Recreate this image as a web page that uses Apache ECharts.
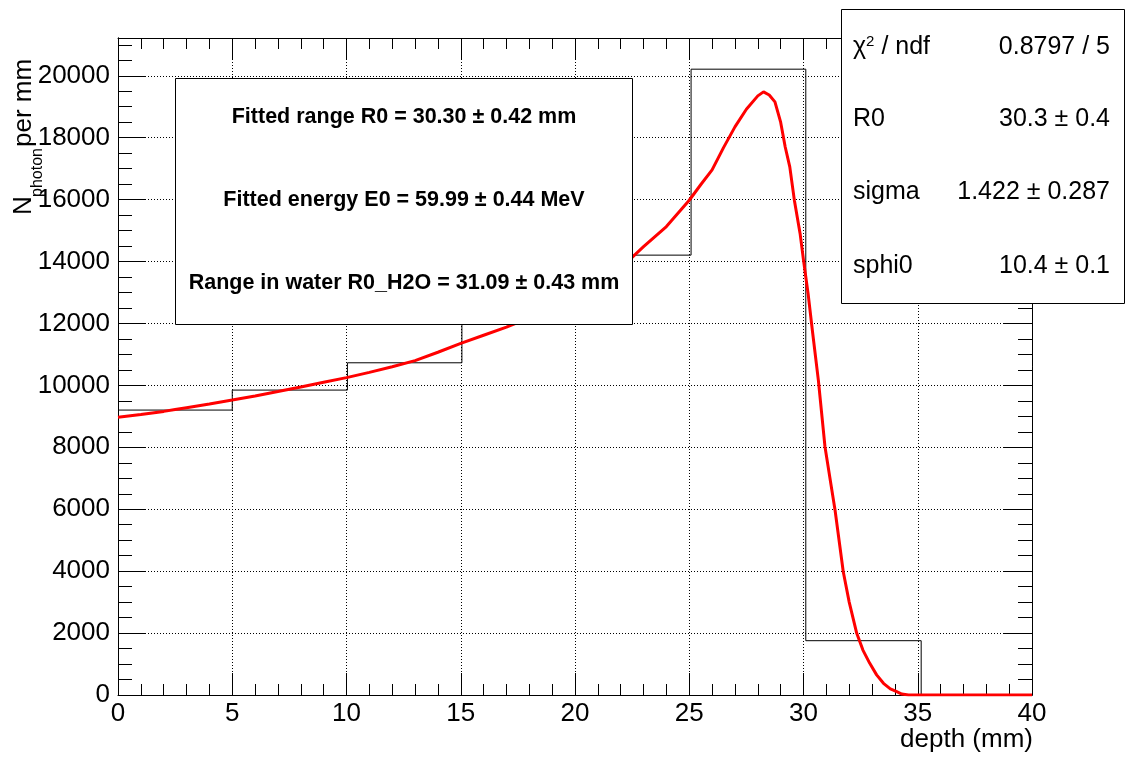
<!DOCTYPE html>
<html>
<head>
<meta charset="utf-8">
<script src="https://cdn.jsdelivr.net/npm/echarts@6/dist/echarts.min.js"></script>
<style>
html,body{margin:0;padding:0;background:#fff;}
#chart{width:1126px;height:757px;}
</style>
</head>
<body>
<div id="chart"></div>
<script>
// ---- data ----
const binEdges = [0, 5, 10.04, 15.05, 20.06, 25.08, 30.1, 35.15, 40];
const binCounts = [9203, 9848, 10730, 12200, 14207, 20213, 1754, 0];

const fitX = [0, 1, 2, 2.5, 3, 4, 5, 6, 7, 8, 9, 10, 11, 12, 13, 14, 15, 16, 17, 18, 19, 20, 21, 22, 22.5, 23, 24, 25, 25.5, 26, 26.5, 27, 27.5, 28, 28.25, 28.5, 28.75, 29, 29.2, 29.4, 29.6, 29.85, 30, 30.2, 30.4, 30.65, 30.94, 31.2, 31.38, 31.74, 32, 32.33, 32.6, 32.9, 33.2, 33.5, 33.8, 34.08, 34.3, 34.6, 35, 36, 37, 38, 39, 40];
const fitY = [8970, 9060, 9160, 9220, 9280, 9400, 9525, 9660, 9800, 9950, 10100, 10250, 10420, 10600, 10800, 11070, 11356, 11620, 11880, 12180, 12520, 12900, 13330, 13820, 14133, 14480, 15130, 15980, 16480, 16960, 17680, 18350, 18920, 19350, 19480, 19380, 19157, 18500, 17700, 17058, 15983, 14908, 14046, 12970, 11700, 10171, 8018, 6810, 5974, 3982, 3000, 1992, 1450, 1023, 650, 378, 200, 107, 30, 0, 0, 0, 0, 0, 0, 0];

const xTitle = 'depth (mm)';
const yTitleParts = ['N', 'photon', 'per mm'];
const fitLines = [
  'Fitted range R0 = 30.30 \u00b1 0.42 mm',
  'Fitted energy E0 = 59.99 \u00b1 0.44 MeV',
  'Range in water R0_H2O = 31.09 \u00b1 0.43 mm'
];
const statNames = ['R0', 'sigma', 'sphi0'];
const statValues = ['0.8797 / 5', '30.3 \u00b1 0.4', '1.422 \u00b1 0.287', '10.4 \u00b1 0.1'];

const xMin = 0, xMax = 40, yMin = 0, yMax = 21220;

// ---- build ----
const histPts = [];
for (let i = 0; i < binCounts.length; i++) {
  histPts.push([binEdges[i], binCounts[i]]);
  histPts.push([binEdges[i + 1], binCounts[i]]);
}
const fitPts = fitX.map((x, i) => [x, fitY[i]]);

const FONT = 'Liberation Sans';
const dotted = {color: '#000', width: 1, type: [1, 2]};
const axisLine = {show: true, onZero: false, lineStyle: {color: '#000', width: 1}};
const plain = v => String(v);

function xAx(pos, labels, split) {
  return {
    type: 'value', position: pos, min: xMin, max: xMax, interval: 5,
    axisLine: axisLine,
    axisTick: {show: true, inside: true, length: 22, lineStyle: {color: '#000'}},
    minorTick: {show: true, splitNumber: 5, length: 11, lineStyle: {color: '#000'}},
    splitLine: {show: split, lineStyle: dotted},
    axisLabel: {show: labels, color: '#000', fontFamily: FONT, fontSize: 26, margin: 6, formatter: plain},
  };
}
function yAx(pos, interval, tickLen, labels, split) {
  return {
    type: 'value', position: pos, min: yMin, max: yMax, interval: interval,
    axisLine: axisLine,
    axisTick: {show: true, inside: true, length: tickLen, lineStyle: {color: '#000'}},
    splitLine: {show: split, lineStyle: dotted},
    axisLabel: {show: labels, color: '#000', fontFamily: FONT, fontSize: 26, margin: 8, showMaxLabel: false, formatter: plain},
  };
}

const chart = echarts.init(document.getElementById('chart'), null, {renderer: 'canvas'});

const graphics = [];
// x title
graphics.push({type: 'text', x: 1033, y: 740, z: 100,
  style: {text: xTitle, font: '26px "' + FONT + '"', fill: '#000', align: 'right', verticalAlign: 'middle'}});
// y title (rotated)
graphics.push({type: 'text', x: 24, y: 215, rotation: Math.PI / 2, z: 100,
  style: {text: yTitleParts[0], font: '26px "' + FONT + '"', fill: '#000', align: 'left', verticalAlign: 'middle'}});
graphics.push({type: 'text', x: 38, y: 197, rotation: Math.PI / 2, z: 100,
  style: {text: yTitleParts[1], font: '16px "' + FONT + '"', fill: '#000', align: 'left', verticalAlign: 'middle'}});
graphics.push({type: 'text', x: 24, y: 147, rotation: Math.PI / 2, z: 100,
  style: {text: yTitleParts[2], font: '26px "' + FONT + '"', fill: '#000', align: 'left', verticalAlign: 'middle'}});

// fit info box
graphics.push({type: 'rect', shape: {x: 175.5, y: 78.5, width: 457, height: 246}, z: 100,
  style: {fill: '#fff', stroke: '#000', lineWidth: 1}});
const fitRowY = [117, 200, 283];
fitLines.forEach((t, i) => {
  graphics.push({type: 'text', x: 404, y: fitRowY[i], z: 101,
    style: {text: t, font: 'bold 21.5px "' + FONT + '"', fill: '#000', align: 'center', verticalAlign: 'middle'}});
});

// stats box
graphics.push({type: 'rect', shape: {x: 841.5, y: 9.5, width: 283, height: 294}, z: 100,
  style: {fill: '#fff', stroke: '#000', lineWidth: 1}});
const statRowY = [47, 119, 192, 266];
graphics.push({type: 'text', x: 853, y: statRowY[0], z: 101,
  style: {text: '{a|\u03c7}{s|2}{a| / ndf}', fill: '#000', align: 'left', verticalAlign: 'middle',
    rich: {a: {fontFamily: FONT, fontSize: 25, fill: '#000', verticalAlign: 'bottom'},
           s: {fontFamily: FONT, fontSize: 15, fill: '#000', verticalAlign: 'top'}}}});
statNames.forEach((n, i) => {
  graphics.push({type: 'text', x: 853, y: statRowY[i + 1], z: 101,
    style: {text: n, font: '25px "' + FONT + '"', fill: '#000', align: 'left', verticalAlign: 'middle'}});
});
statValues.forEach((v, i) => {
  graphics.push({type: 'text', x: 1110, y: statRowY[i], z: 101,
    style: {text: v, font: '25px "' + FONT + '"', fill: '#000', align: 'right', verticalAlign: 'middle'}});
});

chart.setOption({
  animation: false,
  backgroundColor: '#fff',
  grid: {left: 118, right: 94, top: 38, bottom: 62, containLabel: false},
  xAxis: [xAx('bottom', true, true), xAx('top', false, false)],
  yAxis: [
    yAx('left', 2000, 28, true, true),
    yAx('left', 500, 14, false, false),
    yAx('right', 2000, 28, false, false),
    yAx('right', 500, 14, false, false)
  ],
  series: [
    {type: 'line', data: histPts, xAxisIndex: 0, yAxisIndex: 0, showSymbol: false, symbol: 'none',
     lineStyle: {color: '#000', width: 1}, z: 3},
    {type: 'line', data: fitPts, xAxisIndex: 0, yAxisIndex: 0, showSymbol: false, symbol: 'none',
     lineStyle: {color: '#ff0000', width: 3}, z: 4}
  ],
  graphic: graphics
});
</script>
</body>
</html>
